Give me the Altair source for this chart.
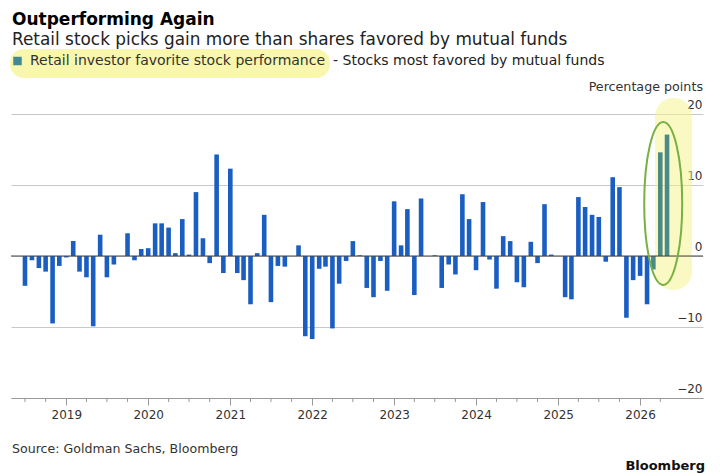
import altair as alt
import pandas as pd

FONT = "DejaVu Sans"
BLUE = "#1b5ec2"
TEAL = "#4b8a86"

# Monthly bars, Jul 2018 .. May 2026 (percentage points)
months = pd.date_range("2018-07-01", periods=95, freq="MS")
values = [
    -4.2, -0.6, -1.7, -2.2, -9.5, -1.4,
    -0.2, 2.1, -2.2, -3.0, -9.9, 3.0, -3.0, -1.2, 0.0, 3.2, -0.6, 1.0,
    1.1, 4.6, 4.6, 4.0, 0.4, 5.2, 0.2, 9.0, 2.5, -1.0, 14.3, -2.4,
    12.3, -2.4, -3.4, -6.8, 0.4, 5.8, -6.5, -1.4, -1.5, 0.0, 1.5, -11.3,
    -11.7, -1.8, -1.5, -10.2, -3.9, -0.7, 2.1, 0.1, -4.5, -5.8, -0.7, -4.9,
    7.7, 1.5, 6.6, -5.5, 8.1, 0.0, 0.1, -4.5, -1.2, -2.6, 8.7, 5.2,
    -2.0, 7.6, -0.5, -4.6, 2.8, 2.1, -3.7, -4.4, 2.0, -1.0, 7.3, 0.2,
    0.0, -5.8, -6.1, 8.3, 6.9, 5.8, 5.5, -0.8, 11.1, 9.7, -8.7, -3.4,
    -2.8, -6.8, -1.9, 14.6, 17.1,
]
groups = ["base"] * (len(values) - 3) + ["highlight"] * 3
year_ticks = list(range(2019, 2027))
y_ticks = [-20, -10, 0, 10, 20]

title = "Outperforming Again"
subtitle = "Retail stock picks gain more than shares favored by mutual funds"
legend1 = "Retail investor favorite stock performance"
legend2 = "- Stocks most favored by mutual funds"
unit_label = "Percentage points"
source = "Source: Goldman Sachs, Bloomberg"
brand = "Bloomberg"

df = pd.DataFrame({"date": months, "value": values, "group": groups})
quarters = [d for d in pd.date_range("2018-07-01", "2026-04-01", freq="QS") if d.month != 1]
minor_df = pd.DataFrame({"date": quarters})
circle_df = pd.DataFrame({"date": [pd.Timestamp("2026-04-14")], "value": [7.4]})
one = pd.DataFrame({"a": [0]})

W, H = 692, 284

x_enc = alt.X(
    "date:T",
    scale=alt.Scale(domain=[alt.DateTime(year=2018, month=5, date=22),
                            alt.DateTime(year=2026, month=9, date=16)]),
    axis=alt.Axis(values=[alt.DateTime(year=y, month=1, date=1) for y in year_ticks],
                  format="%Y", title=None, grid=False, tickSize=7, tickColor="#999",
                  domainColor="#999", labelFontSize=12, labelColor="#333",
                  labelPadding=4, labelFont=FONT),
)
y_enc = alt.Y(
    "value:Q",
    scale=alt.Scale(domain=[-20, 20], nice=False, zero=False),
    axis=alt.Axis(orient="right", values=y_ticks, title=None, grid=True,
                  gridColor="#c8c8c8", domain=False, ticks=False, tickSize=0,
                  labelAlign="right", labelPadding=-1, labelBaseline="alphabetic",
                  labelOffset=-6, labelFontSize=12, labelColor="#333", labelFont=FONT),
)

hl_legend = alt.Chart(one).mark_rect(cornerRadius=14, color="#f6f38a", opacity=0.7).encode(
    x=alt.value(-1), x2=alt.value(319), y=alt.value(-65), y2=alt.value(-36))
hl_right = alt.Chart(one).mark_rect(cornerRadius=18, color="#f6f38a", opacity=0.5).encode(
    x=alt.value(644), x2=alt.value(681), y=alt.value(-16), y2=alt.value(176))

bars = alt.Chart(df).mark_bar(width=4.6).encode(
    x=x_enc, y=y_enc,
    color=alt.Color("group:N", scale=alt.Scale(domain=["base", "highlight"], range=[BLUE, TEAL]),
                    legend=None),
)

zero = alt.Chart(one).mark_rule(color="#444", strokeWidth=1.2).encode(y=alt.datum(0))

minor = alt.Chart(minor_df).mark_rule(color="#999").encode(
    x="date:T", y=alt.value(H), y2=alt.value(H + 4))

a = 38 / 163
k = 0.5523
ell = (f"M0,-1C{a*k:.4f},-1,{a:.4f},-{k},{a:.4f},0C{a:.4f},{k},{a*k:.4f},1,0,1"
       f"C-{a*k:.4f},1,-{a:.4f},{k},-{a:.4f},0C-{a:.4f},-{k},-{a*k:.4f},-1,0,-1Z")
ellipse = alt.Chart(circle_df).mark_point(
    shape=ell, size=163 ** 2, filled=False, stroke="#78b042", strokeWidth=2, opacity=1
).encode(x="date:T", y="value:Q")

legend_sq = alt.Chart(one).mark_square(size=72, color="#3f8a96", opacity=1).encode(
    x=alt.value(6.5), y=alt.value(-53))


def txt(s, x, y, size, weight="normal", align="left", color="#222"):
    return alt.Chart(pd.DataFrame({"t": [s]})).mark_text(
        align=align, baseline="alphabetic", fontSize=size, fontWeight=weight,
        font=FONT, color=color
    ).encode(x=alt.value(x), y=alt.value(y), text="t:N")


texts = [
    txt(title, 1, -89.5, 17, "bold", color="#000"),
    txt(subtitle, 1, -69.5, 16.9, color="#222"),
    txt(legend1, 19, -49, 14, color="#333"),
    txt(legend2, 322, -49, 14, color="#222"),
    txt(unit_label, W, -23, 12.7, align="right", color="#333"),
    txt(source, 1, 339, 12.6, color="#333"),
    txt(brand, W + 2, 356, 13, "bold", align="right", color="#111"),
]

chart = alt.layer(hl_legend, hl_right, bars, zero, minor, ellipse, legend_sq, *texts).properties(
    width=W, height=H,
    padding={"left": 3, "top": 106, "right": 6, "bottom": 76},
    autosize=alt.AutoSizeParams(type="none"),
).configure(background="white", font=FONT).configure_view(stroke=None)

chart.save("out.html", embed_options={"renderer": "svg", "actions": False})
